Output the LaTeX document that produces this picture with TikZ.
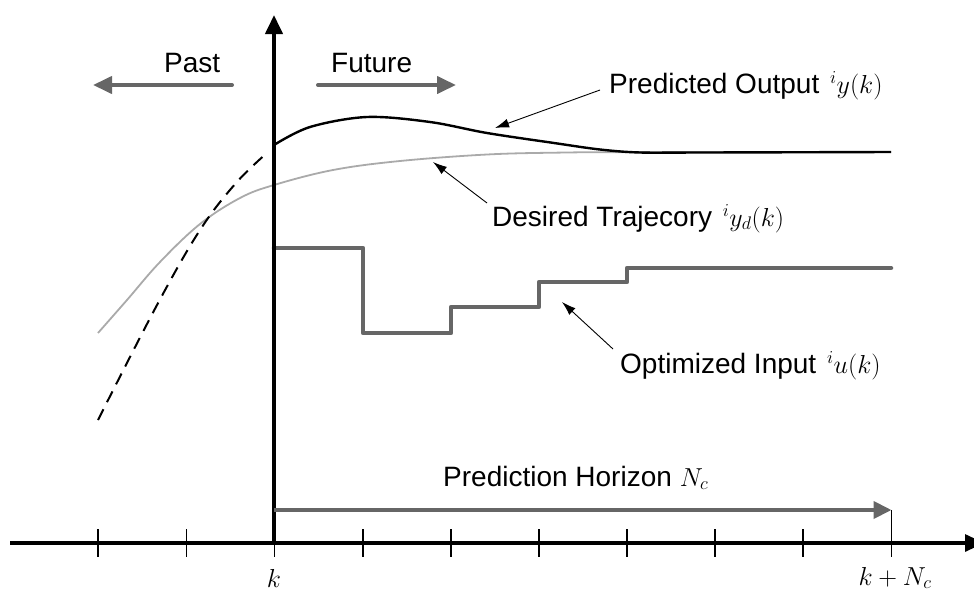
\RequirePackage{fix-cm}
\documentclass[tikz,border=0pt]{standalone}
\usepackage{fontspec}
\setmainfont{Liberation Sans}
\usetikzlibrary{arrows.meta}
\definecolor{stepgray}{RGB}{102,102,102}
\definecolor{lightgray}{RGB}{170,170,170}
\newcommand{\mathsz}{\fontsize{26}{30}\selectfont}
\begin{document}
\begin{tikzpicture}[x=1pt,y=-1pt,
  lbl/.style={font=\fontsize{28}{33}\selectfont, inner sep=0pt, anchor=base west},
  mth/.style={font=\fontsize{26}{30}\selectfont, inner sep=0pt, anchor=base},
  axis/.style={line width=3.2pt, -{Triangle[length=19pt,width=17pt]}},
  bigarrow/.style={stepgray, line width=4pt, line cap=round, -{Triangle[length=19pt,width=17pt]}},
  annot/.style={line width=0.9pt, -{Latex[length=14pt,width=9pt]}},
  tick/.style={line width=1.6pt}
]
\useasboundingbox (0,0) rectangle (974,592);

% coordinates
\coordinate (xLeft) at (10,543);
\coordinate (xRight) at (984,543);
\coordinate (origin) at (274,543);
\coordinate (yTop) at (274,15);

% ticks
\foreach \x/\n in {98/t1,186.5/t2,274.5/t3,363/t4,451/t5,539/t6,627/t7,715/t8,803/t9,891.5/t10}{
  \coordinate (\n a) at (\x,529);
  \coordinate (\n b) at (\x,557);
  \draw[tick] (\n a) -- (\n b);
}

% desired trajectory (gray)
\draw[lightgray, line width=1.8pt] plot[smooth, tension=0.6] coordinates
  {(98,333) (127,300) (160,262) (200,224) (240,198) (274,185) (333,170) (400,161) (487,154.5) (560,152.6) (640,152.1) (891,152)};

% past output (dashed)
\draw[black, line width=2pt, dash pattern=on 12pt off 8pt] plot[smooth, tension=0.6] coordinates
  {(98,420) (157,305) (200,230) (236,183) (268,152)};

% predicted output
\draw[black, line width=2.4pt] plot[smooth, tension=0.55] coordinates
  {(274,145) (310,127) (367,117) (430,122) (487,133) (554,143) (600,149.5) (640,152.5) (700,152.5) (891,152)};

% optimized input (step)
\coordinate (s0) at (274,248);
\draw[stepgray, line width=4.5pt, line join=round, line cap=round]
  (s0) -- (363,248) -- (363,333) -- (451,333) -- (451,307) -- (539,307) -- (539,282) -- (627,282) -- (627,268) -- (891,268);

% axes
\draw[axis] (xLeft) -- (xRight);
\draw[line width=4pt, -{Triangle[length=19pt,width=17pt]}] (origin) -- (yTop);

% past / future arrows
\coordinate (pastFrom) at (232,85);
\coordinate (pastTo) at (93,85);
\coordinate (futFrom) at (318,85);
\coordinate (futTo) at (456,85);
\draw[bigarrow] (pastFrom) -- (pastTo);
\draw[bigarrow] (futFrom) -- (futTo);
\node[lbl] (past) at (164,72) {Past};
\node[lbl] (future) at (331,72) {Future};

% prediction horizon
\coordinate (phFrom) at (274,510);
\coordinate (phTo) at (891.5,510);
\coordinate (phDown) at (891.5,543);
\draw[stepgray, line width=4pt, -{Triangle[length=18pt,width=17pt]}] (phFrom) -- (phTo);
\draw[line width=0.9pt] (phTo) -- (phDown);
\node[lbl] (ph) at (443,486) {Prediction Horizon {\mathsz$N_c$}};

% labels with arrows
\node[lbl] (pred) at (609,93) {Predicted Output\hspace{3pt} {\mathsz$^iy(k)$}};
\coordinate (predFrom) at (600,90);
\coordinate (predTip) at (495,128);
\draw[annot] (predFrom) -- (predTip);

\node[lbl] (des) at (492,226) {Desired Trajecory\hspace{3pt} {\mathsz$^iy_d(k)$}};
\coordinate (desFrom) at (487,203);
\coordinate (desTip) at (433,162);
\draw[annot] (desFrom) -- (desTip);

\node[lbl] (opt) at (620,373) {Optimized Input\hspace{3pt} {\mathsz$^iu(k)$}};
\coordinate (optFrom) at (613,349);
\coordinate (optTip) at (562,302);
\draw[annot] (optFrom) -- (optTip);

% axis labels
\node[mth] (klab) at (274,587) {$k$};
\node[mth] (knlab) at (895,585) {$k+N_c$};
\end{tikzpicture}
\end{document}
